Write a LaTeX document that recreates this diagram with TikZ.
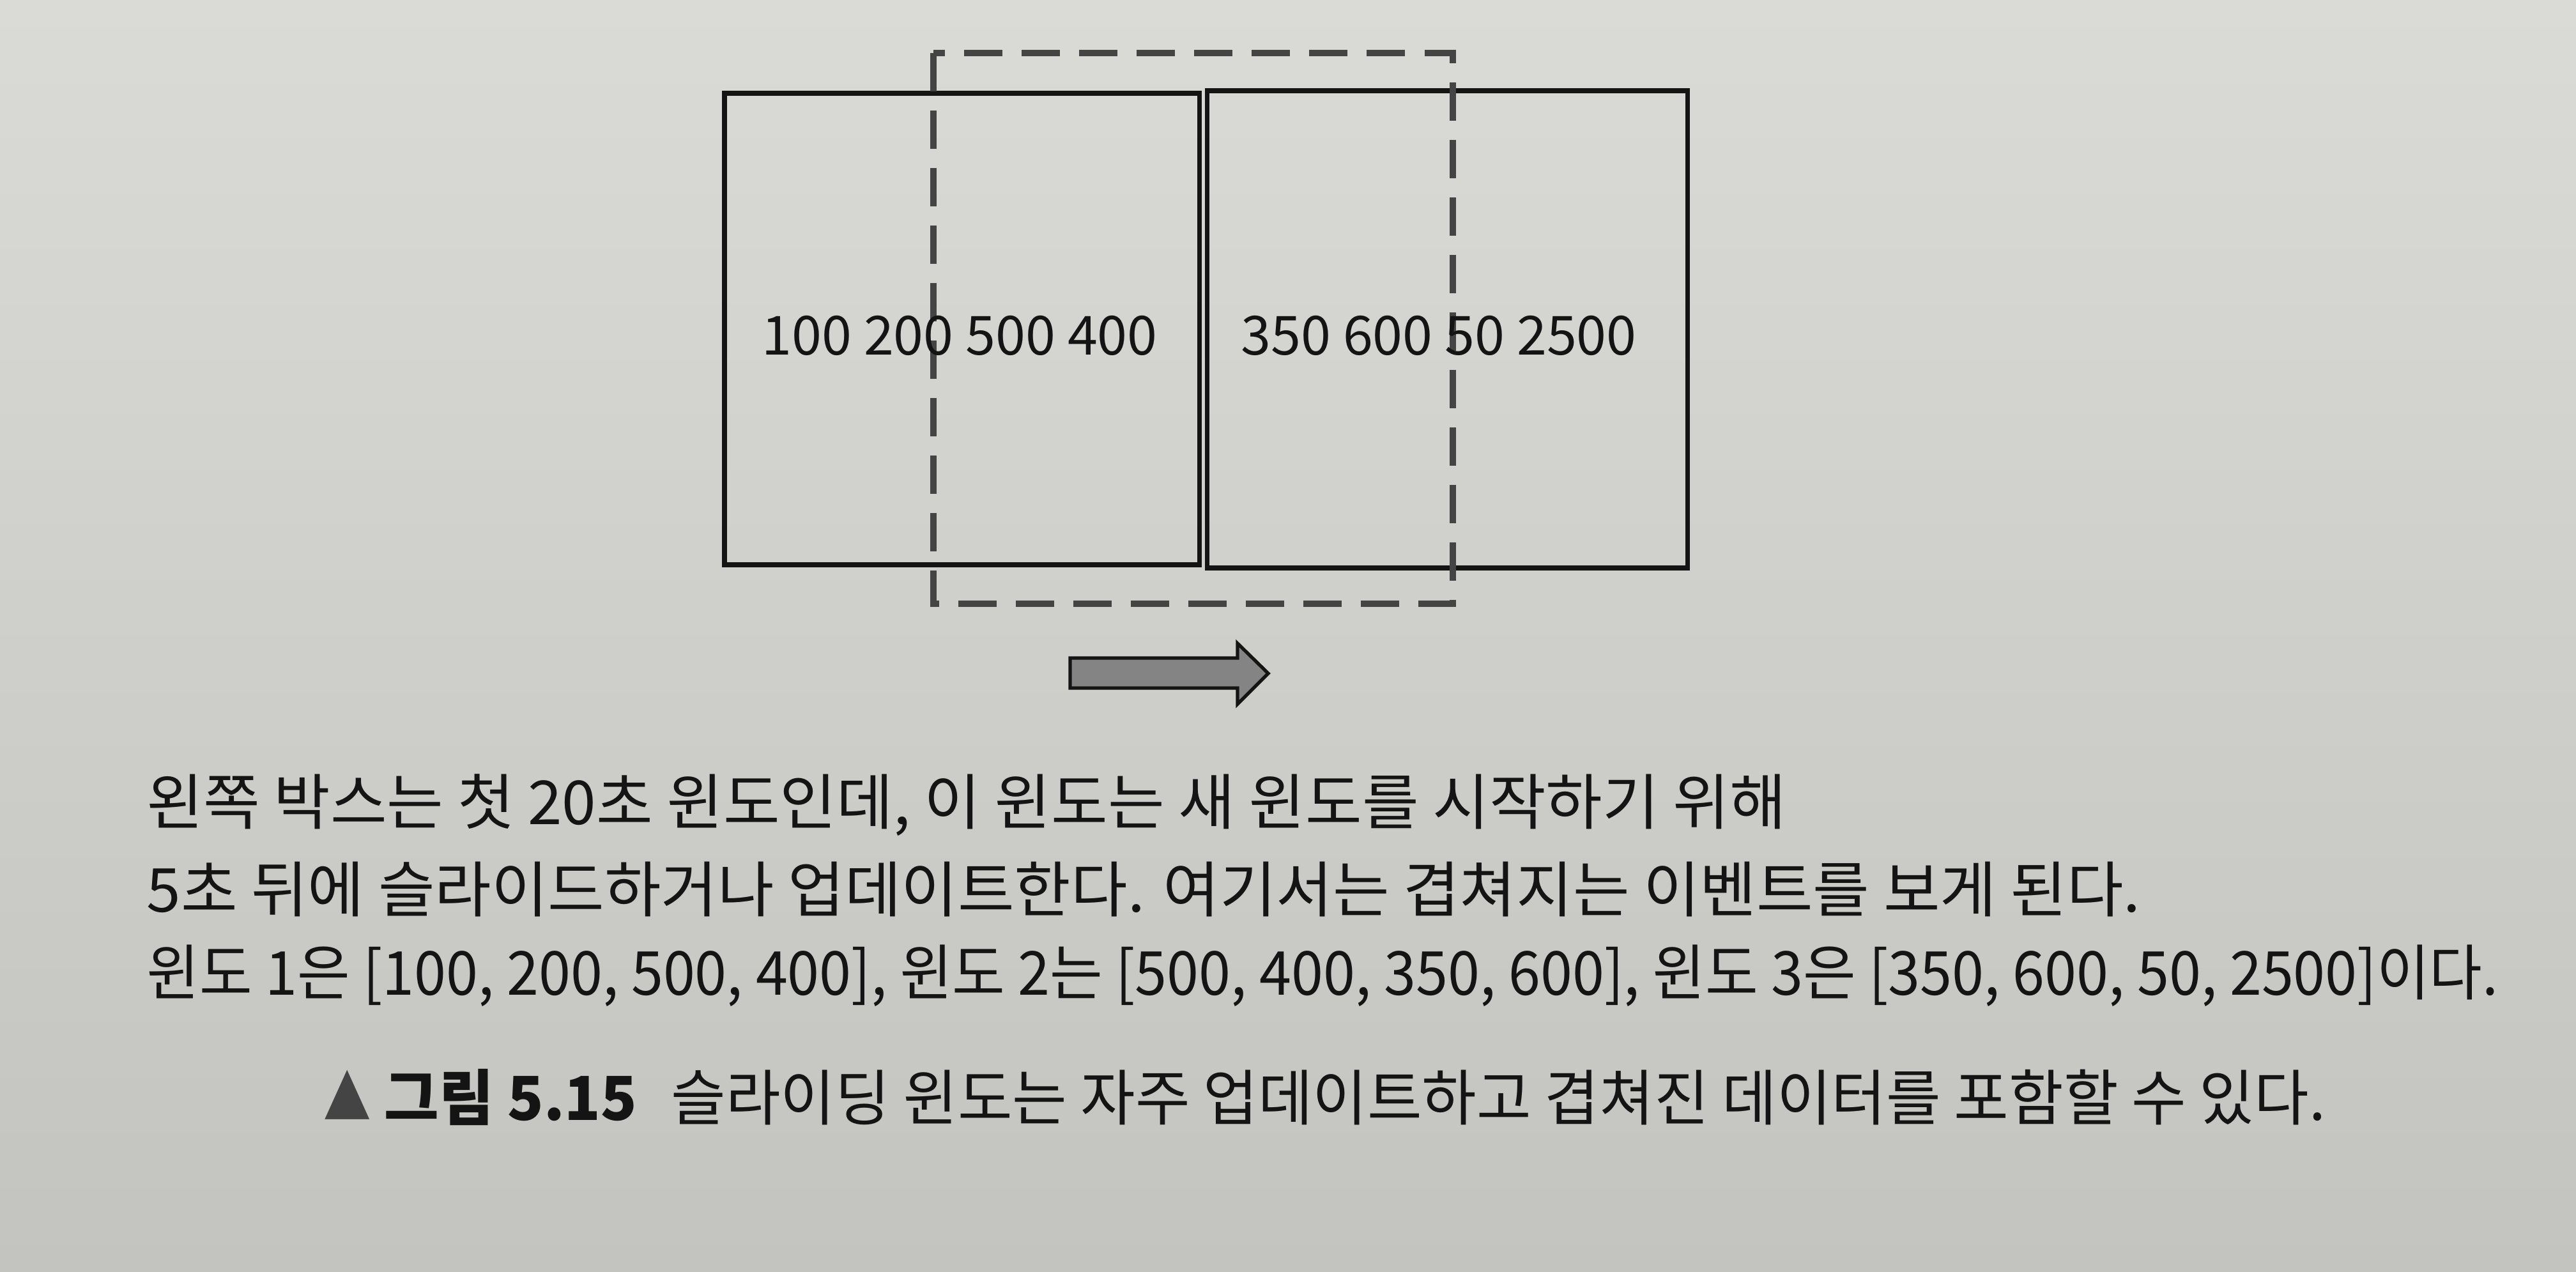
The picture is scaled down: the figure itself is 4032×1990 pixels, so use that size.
\documentclass[tikz,border=0pt]{standalone}
\usepackage{fontspec}
\usepackage{graphicx}
\setmainfont{Noto Sans CJK KR}
\definecolor{papertop}{RGB}{218,218,215}
\definecolor{papermid}{RGB}{206,206,203}
\definecolor{paperbot}{RGB}{195,195,192}
\definecolor{ink}{RGB}{20,20,20}
\definecolor{dashink}{RGB}{68,68,68}
\definecolor{arrowfill}{RGB}{132,132,132}
\tikzset{
  winbox/.style={draw=ink, line width=2pt},
  slidebox/.style={draw=dashink, line width=2.8pt, dash pattern=on 0.60cm off 0.30cm},
  nums/.style={anchor=base west, inner sep=0pt, text=ink, font=\fontsize{24pt}{28pt}\selectfont},
  body/.style={anchor=base west, inner sep=0pt, text=ink, font=\fontsize{27pt}{31pt}\selectfont},
  slidearrow/.style={draw=ink, line width=1.5pt, fill=arrowfill, line join=miter},
}
\begin{document}
\begin{tikzpicture}[x=0.01cm, y=-0.01cm]
\useasboundingbox (0,0) rectangle (4032,1990);
\shade[top color=papertop, middle color=papermid, bottom color=paperbot] (0,0) rectangle (4032,1990);
% windows
\draw[winbox] (1134,146) rectangle (1877,884);
\draw[winbox] (1889,142) rectangle (2641,889);
% sliding window
\draw[slidebox] (1461,83) rectangle (2274,945);
% numbers
\node[nums] (n1) at (1192,555) {100 200 500 400};
\node[nums] (n2) at (1942,555) {350 600 50 2500};
% arrow
\draw[slidearrow] (1675,1030) -- (1937,1030) -- (1937,1007) -- (1985,1054) -- (1937,1102) -- (1937,1077) -- (1675,1077) -- cycle;
% text
\node[body] (l1) at (229,1290) {\scalebox{1.015}[1]{왼쪽 박스는 첫 20초 윈도인데, 이 윈도는 새 윈도를 시작하기 위해}};
\node[body] (l2) at (229,1427) {\scalebox{1.014}[1]{5초 뒤에 슬라이드하거나 업데이트한다. 여기서는 겹쳐지는 이벤트를 보게 된다.}};
\node[body] (l3) at (229,1557) {\scalebox{0.947}[1]{윈도 1은 [100, 200, 500, 400], 윈도 2는 [500, 400, 350, 600], 윈도 3은 [350, 600, 50, 2500]이다.}};
\node[body] (cap) at (506,1753) {\scalebox{0.98}[1]{{\color{dashink}\scalebox{0.8}[1]{▲}} \textbf{그림 5.15}\hspace{0.35em} 슬라이딩 윈도는 자주 업데이트하고 겹쳐진 데이터를 포함할 수 있다.}};
\end{tikzpicture}
\end{document}
